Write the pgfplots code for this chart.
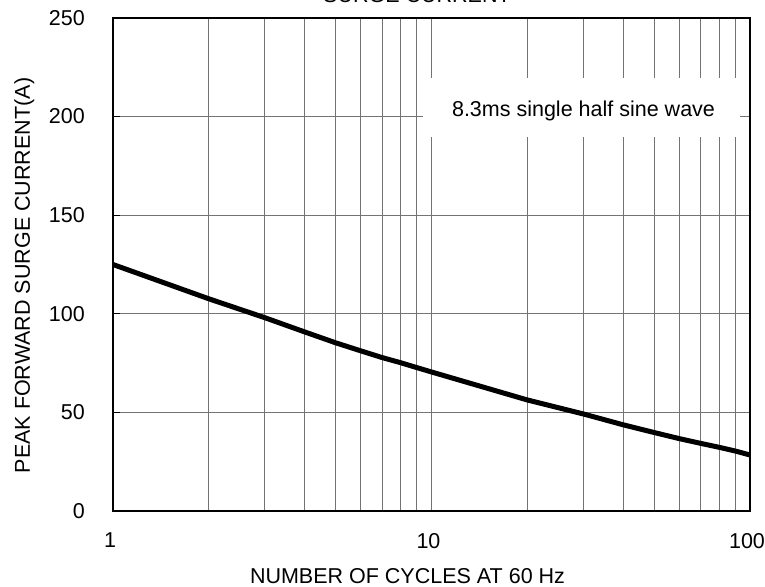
\documentclass[border=0pt]{standalone}
\usepackage{fontspec}
\setmainfont{Liberation Sans}
\usepackage{pgfplots}
\pgfplotsset{compat=1.18}

\begin{document}
\begin{tikzpicture}[font=\fontsize{21.5}{25}\selectfont]
  % page size fixed to the reference (axis box 637 x 493)
  \useasboundingbox (-113pt,-75pt) rectangle (652pt,511pt);
  \begin{axis}[
      at={(0pt,0pt)}, anchor=south west,
      scale only axis, width=637pt, height=493pt,
      xmode=log, xmin=1, xmax=100,
      ymin=0, ymax=250,
      xtick={1,10,100}, xticklabels={1,10,100},
      minor xtick={2,3,4,5,6,7,8,9,20,30,40,50,60,70,80,90},
      ytick={0,50,100,150,200,250},
      xmajorgrids, xminorgrids, ymajorgrids,
      grid style={black!55, line width=1pt},
      minor grid style={black!55, line width=1pt},
      axis line style={black, line width=1.2pt},
      xtick style={draw=none},
      minor tick style={draw=none},
      ytick style={black, line width=1pt},
      tick align=inside, ytick pos=left,
      major tick length=7pt,
      /pgf/number format/assume math mode=true,
      xticklabel style={anchor=north, inner sep=0pt, yshift=-22pt, xshift=-3pt},
      yticklabel style={anchor=east, inner sep=0pt, xshift=-28pt},
    ]
    \addplot[black, line width=5pt] coordinates {
      (1,125)(2,107.6)(3,98)(4,90.8)(5,85.3)(6,81.2)(7,77.8)(8,75.2)(9,72.7)
      (10,70.5)(20,56.3)(30,49.2)(40,43.7)(50,39.8)(60,36.7)(70,34.3)(80,32.3)
      (90,30.4)(100,28.4)
    };
  \end{axis}
  \fill[white] (310pt,374pt) rectangle (627pt,433pt);
  \node[anchor=base, inner sep=0pt] at (470.5pt,394pt) {8.3ms single half sine wave};
  \node[anchor=base, inner sep=0pt] at (304pt,508pt) {SURGE CURRENT};
  \node[anchor=base, inner sep=0pt] at (294.5pt,-72pt) {NUMBER OF CYCLES AT 60 Hz};
  \node[anchor=base, inner sep=0pt, rotate=90] at (-83pt,235.5pt) {PEAK FORWARD SURGE CURRENT(A)};
\end{tikzpicture}
\end{document}
